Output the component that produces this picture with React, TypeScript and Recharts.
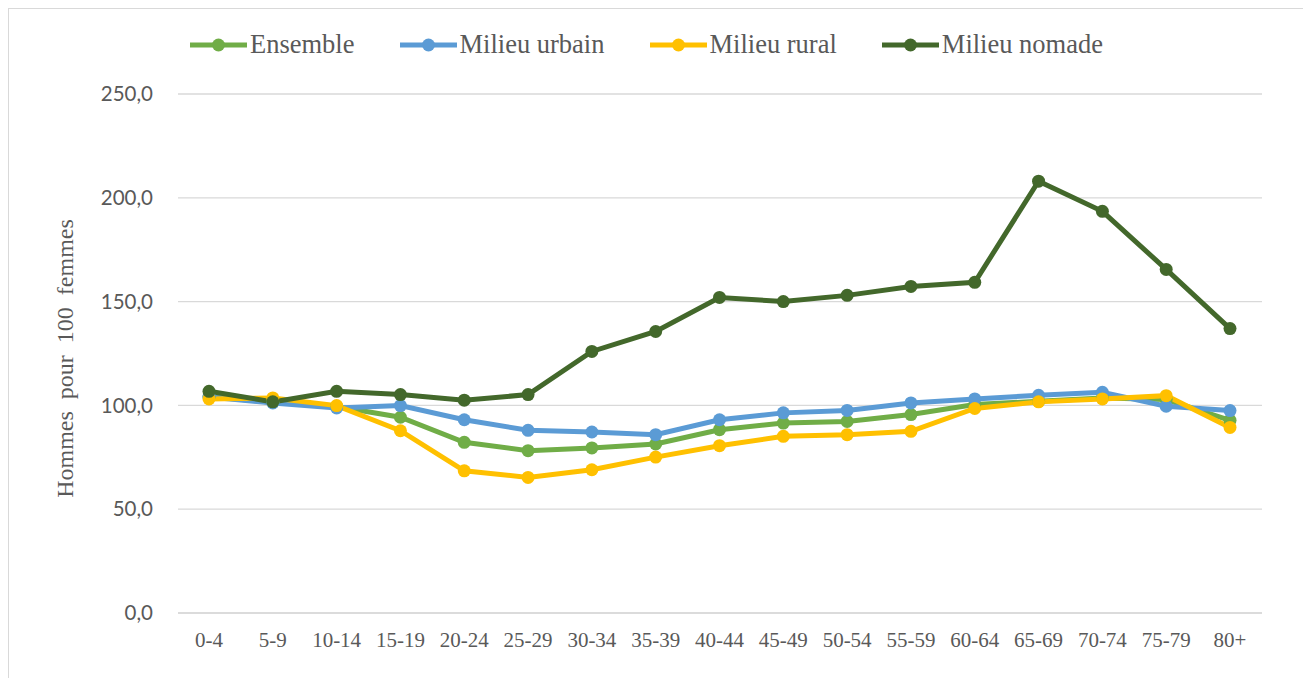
import React from "react";
import { LineChart, Line, XAxis, YAxis, CartesianGrid } from "recharts";

const categories = ["0-4", "5-9", "10-14", "15-19", "20-24", "25-29", "30-34", "35-39", "40-44", "45-49", "50-54", "55-59", "60-64", "65-69", "70-74", "75-79", "80+"];
const ensemble = [104.2, 101.5, 99.5, 94.3, 82.2, 78.2, 79.5, 81.4, 88.3, 91.5, 92.3, 95.6, 100.4, 102.0, 103.6, 102.8, 92.8];
const urbain = [104.0, 101.2, 98.8, 99.9, 93.1, 88.0, 87.2, 85.9, 93.1, 96.4, 97.6, 101.2, 103.1, 104.9, 106.3, 99.6, 97.5];
const rural = [103.1, 103.6, 99.9, 87.8, 68.5, 65.3, 69.0, 75.1, 80.6, 85.1, 85.9, 87.5, 98.5, 101.7, 103.1, 104.7, 89.4];
const nomade = [106.8, 101.7, 106.8, 105.2, 102.5, 105.2, 126.0, 135.6, 152.0, 150.0, 153.0, 157.3, 159.3, 208.0, 193.5, 165.5, 137.0];
const yTicks = [0, 50, 100, 150, 200, 250];

const series = [
  { key: "ensemble", name: "Ensemble", color: "#70AD47", values: ensemble },
  { key: "urbain", name: "Milieu urbain", color: "#5B9BD5", values: urbain },
  { key: "rural", name: "Milieu rural", color: "#FFC000", values: rural },
  { key: "nomade", name: "Milieu nomade", color: "#43682B", values: nomade },
];

const data = categories.map((c, i) => {
  const row: any = { cat: c };
  series.forEach((s) => (row[s.key] = s.values[i]));
  return row;
});

const SERIF = '"Liberation Serif", "Times New Roman", serif';
const SANS = 'Lato, "Liberation Sans", sans-serif';

const YLabel = (props: any) => {
  const vb = props.viewBox || { x: 0, y: 0, width: 0, height: 0 };
  const cx = vb.x + 64;
  const cy = vb.y + vb.height / 2 + 5;
  return (
    <text
      x={cx}
      y={cy}
      transform={`rotate(-90, ${cx}, ${cy})`}
      textAnchor="middle"
      fill="#595959"
      style={{ fontFamily: SERIF, fontSize: 24, wordSpacing: 6 }}
    >
      Hommes pour 100 femmes
    </text>
  );
};

export default function App() {
  return (
    <div
      style={{
        position: "relative",
        width: 1296,
        height: 669,
        borderTop: "1px solid #d9d9d9",
        borderLeft: "1px solid #d9d9d9",
        borderRight: "1px solid #d9d9d9",
        background: "#fff",
      }}
    >
      <div
        style={{
          position: "absolute",
          left: 181,
          top: 20,
          display: "flex",
          alignItems: "center",
          gap: 45,
          fontFamily: SERIF,
          fontSize: 26.5,
          color: "#595959",
          whiteSpace: "nowrap",
        }}
      >
        {series.map((s) => (
          <div key={s.key} style={{ display: "flex", alignItems: "center" }}>
            <svg width={57} height={16} style={{ marginRight: 3 }}>
              <line x1={0} y1={8} x2={57} y2={8} stroke={s.color} strokeWidth={5} />
              <circle cx={28.5} cy={8} r={6.5} fill={s.color} />
            </svg>
            <span>{s.name}</span>
          </div>
        ))}
      </div>
      <LineChart
        width={1296}
        height={669}
        data={data}
        margin={{ top: 85, right: 43, bottom: 20, left: 0 }}
      >
        <CartesianGrid vertical={false} stroke="#d9d9d9" strokeWidth={1.3} />
        <XAxis
          dataKey="cat"
          interval={0}
          height={45}
          padding={{ left: 31, right: 32 }}
          axisLine={{ stroke: "#d9d9d9", strokeWidth: 1.3 }}
          tickLine={false}
          tickSize={0}
          tickMargin={19}
          tick={{ fill: "#595959", fontFamily: SERIF, fontSize: 21 }}
        />
        <YAxis
          width={169}
          domain={[0, 250]}
          ticks={yTicks}
          interval={0}
          axisLine={false}
          tickLine={false}
          tickSize={0}
          tickMargin={25}
          tickFormatter={(v: number) => v.toFixed(1).replace(".", ",")}
          tick={{ fill: "#595959", fontFamily: SANS, fontSize: 20.5 }}
          label={{ content: (p: any) => <YLabel {...p} /> }}
        />
        {series.map((s) => (
          <Line
            key={s.key}
            type="linear"
            dataKey={s.key}
            name={s.name}
            stroke={s.color}
            strokeWidth={5}
            dot={{ r: 6.5, fill: s.color, stroke: s.color, strokeWidth: 0 }}
            activeDot={false}
            isAnimationActive={false}
          />
        ))}
      </LineChart>
    </div>
  );
}
